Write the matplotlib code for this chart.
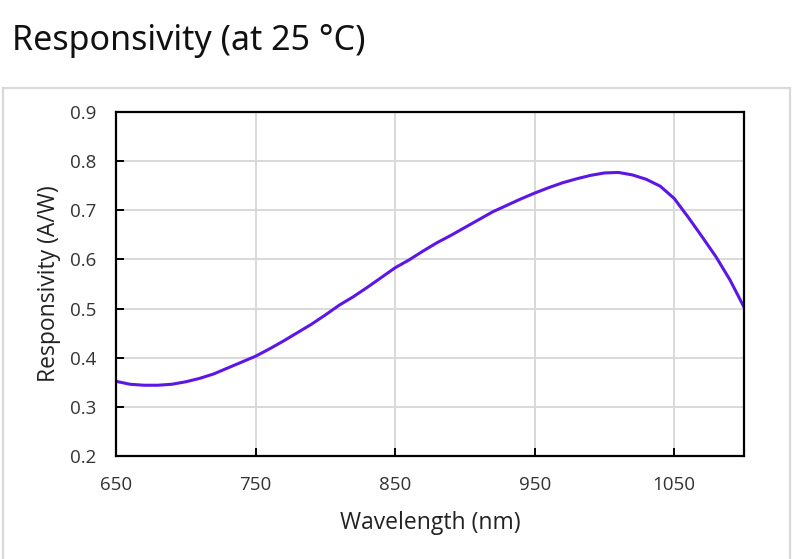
import matplotlib
matplotlib.use("Agg")
import matplotlib.pyplot as plt
from matplotlib.patches import Rectangle

# responsivity curve
wavelength = [650, 660, 670, 680, 690, 700, 710, 720, 730, 740, 750, 760, 770, 780, 790,
              800, 810, 820, 830, 840, 850, 860, 870, 880, 890, 900, 910, 920, 930, 940,
              950, 960, 970, 980, 990, 1000, 1010, 1020, 1030, 1040, 1050, 1060, 1070,
              1080, 1090, 1100]
responsivity = [0.352, 0.346, 0.344, 0.344, 0.346, 0.351, 0.358, 0.367, 0.379, 0.391,
                0.403, 0.418, 0.434, 0.451, 0.468, 0.487, 0.507, 0.524, 0.543, 0.563,
                0.583, 0.599, 0.617, 0.634, 0.649, 0.665, 0.681, 0.697, 0.710, 0.723,
                0.735, 0.746, 0.756, 0.764, 0.771, 0.776, 0.777, 0.772, 0.763, 0.749,
                0.724, 0.686, 0.646, 0.605, 0.558, 0.503]
xticks = [650, 750, 850, 950, 1050]
yticks = [0.2, 0.3, 0.4, 0.5, 0.6, 0.7, 0.8, 0.9]

plt.rcParams['font.family'] = ['Open Sans', 'DejaVu Sans']

fig = plt.figure(figsize=(7.93, 5.59), dpi=100)
W, H = 793, 559

# grey frame around the chart area
fig.patches.append(Rectangle((3 / W, -0.05), 787 / W, (H - 88) / H + 0.05,
                             transform=fig.transFigure, fill=False,
                             edgecolor='#d9d9d9', linewidth=1.6))

fig.text(12 / W, 1 - 41 / H, "Responsivity (at 25 °C)", fontsize=24.5,
         family='Noto Sans', va='center', ha='left', color='#111111')

ax = fig.add_axes([116 / W, 1 - 456 / H, 628 / W, 344 / H])
ax.plot(wavelength, responsivity, color='#5c16e6', linewidth=2.2)

ax.set_xlim(650, 1100)
ax.set_ylim(0.2, 0.9)
ax.set_xticks(xticks)
ax.set_yticks(yticks)
ax.set_yticklabels([f"{v:.1f}" for v in yticks])
ax.grid(True, color='#d9d9d9', linewidth=1.4)
ax.set_axisbelow(True)
for s in ax.spines.values():
    s.set_color('black')
    s.set_linewidth(1.6)
ax.tick_params(direction='in', length=6, width=1.4, labelsize=13.5,
               labelcolor='#333333', pad=14)
ax.tick_params(axis='x', pad=14.5)

ax.set_xlabel("Wavelength (nm)", fontsize=16.5, color='#222222', labelpad=12)
ax.set_ylabel("Responsivity (A/W)", fontsize=16.5, color='#222222', labelpad=6.5)

fig.savefig("out.png", dpi=100)
